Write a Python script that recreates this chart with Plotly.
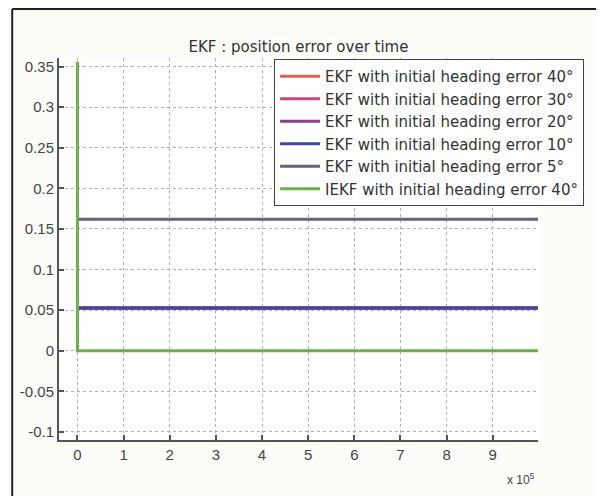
import plotly.graph_objects as go

# Data (time in samples, position error)
t_ekf = [0, 1.0e6]
labels = [
    "EKF with initial heading error 40°",
    "EKF with initial heading error 30°",
    "EKF with initial heading error 20°",
    "EKF with initial heading error 10°",
    "EKF with initial heading error 5°",
    "IEKF with initial heading error 40°",
]
ekf_40 = [0.0527, 0.0527]
ekf_30 = [0.0527, 0.0527]
ekf_20 = [0.0527, 0.0527]
ekf_10 = [0.0527, 0.0527]
ekf_5 = [0.162, 0.162]
t_iekf = [0, 0, 1.0e6]
iekf_40 = [0.356, 0.0, 0.0]

colors = ["#e0604c", "#d0447a", "#8c3f8c", "#3f45a0", "#63637e", "#6cb04e"]

x_tickvals = [0, 1e5, 2e5, 3e5, 4e5, 5e5, 6e5, 7e5, 8e5, 9e5]
x_ticktext = ["0", "1", "2", "3", "4", "5", "6", "7", "8", "9"]
y_tickvals = [0.35, 0.3, 0.25, 0.2, 0.15, 0.1, 0.05, 0, -0.05, -0.1]
y_ticktext = ["0.35", "0.3", "0.25", "0.2", "0.15", "0.1", "0.05", "0", "-0.05", "-0.1"]

fig = go.Figure()
series = [ekf_40, ekf_30, ekf_20, ekf_10, ekf_5]
for lab, ys, c in zip(labels[:5], series, colors[:5]):
    fig.add_trace(go.Scatter(x=t_ekf, y=ys, mode="lines", name=lab,
                             line=dict(color=c, width=3)))
fig.add_trace(go.Scatter(x=t_iekf, y=iekf_40, mode="lines", name=labels[5],
                         line=dict(color=colors[5], width=3)))

wide = "DejaVu Sans, sans-serif"
narrow = "Liberation Sans, Arial, sans-serif"

# page body has an 8px margin on all sides; figure sized to fit inside it
W, H = 588, 488
PX0, PY0 = 8, 8  # page offset
L, R, T, B = 59, 540, 58, 440  # plot area in window pixels
pw, ph = R - L, B - T

fig.update_layout(
    width=W, height=H,
    margin=dict(l=L - PX0, r=W - (R - PX0), t=T - PY0, b=H - (B - PY0)),
    paper_bgcolor="#fcfcf9", plot_bgcolor="#ffffff",
    font=dict(family=narrow, size=15, color="#333333"),
    title=dict(text="EKF : position error over time", x=0.5, xref="paper",
               xanchor="center", y=1 - (47 - PY0) / H, yref="container", yanchor="middle",
               font=dict(family=wide, size=15, color="#333333")),
    showlegend=True,
    legend=dict(x=(275 - L) / pw, y=(B - 59) / ph, xanchor="left", yanchor="top",
                bgcolor="#ffffff", bordercolor="#444444", borderwidth=1,
                font=dict(family=wide, size=15, color="#333333"), tracegroupgap=0,
                itemwidth=40),
    xaxis=dict(range=[-0.4e5, 9.98e5], tickvals=x_tickvals, ticktext=x_ticktext,
               showgrid=True, gridcolor="#b0b0b0", griddash="dot", gridwidth=1,
               showline=True, linecolor="#555555", linewidth=2, zeroline=False,
               ticks="inside", ticklen=5, tickcolor="#555555", tickwidth=2,
               tickfont=dict(family=narrow, size=15, color="#444444")),
    yaxis=dict(range=[-0.11, 0.3605], tickvals=y_tickvals, ticktext=y_ticktext,
               showgrid=True, gridcolor="#b0b0b0", griddash="dot", gridwidth=1,
               showline=True, linecolor="#555555", linewidth=2, zeroline=False,
               ticks="inside", ticklen=5, tickcolor="#555555", tickwidth=2,
               tickfont=dict(family=narrow, size=15, color="#444444")),
)

fig.add_annotation(text="x 10<sup>5</sup>", xref="paper", yref="paper",
                   x=(523 - L) / pw, y=(B - 479) / ph, xanchor="center", yanchor="middle",
                   showarrow=False, font=dict(family=narrow, size=12, color="#444444"))

# outer frame (top and left edges visible in the window)
fx0 = (12 - L) / pw
fy1 = (B - 9) / ph
fig.add_shape(type="line", xref="paper", yref="paper",
              x0=fx0, x1=1.2, y0=fy1, y1=fy1,
              line=dict(color="#222222", width=2), layer="below")
fig.add_shape(type="line", xref="paper", yref="paper",
              x0=fx0, x1=fx0, y0=-0.3, y1=fy1,
              line=dict(color="#222222", width=2), layer="below")

fig.write_html("out.html")
